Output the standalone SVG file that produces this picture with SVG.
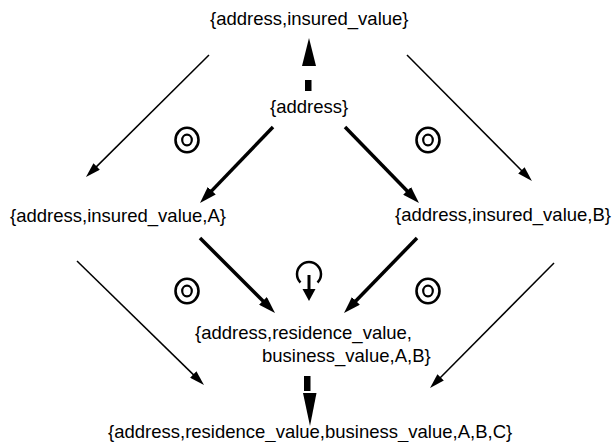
<svg xmlns="http://www.w3.org/2000/svg" width="614" height="442" viewBox="0 0 614 442">
<style>
text{font-family:"Liberation Sans",Arial,sans-serif;font-size:18.5px;fill:#000}
.thin{stroke:#000;stroke-width:1.5;fill:none;marker-end:url(#ht)}
.thick{stroke:#000;stroke-width:3.5;fill:none;marker-end:url(#hk)}
.ring{fill:none;stroke:#000}
</style>
<defs>
<marker id="ht" markerUnits="userSpaceOnUse" viewBox="0 0 15 9" markerWidth="15" markerHeight="9" refX="3" refY="4.5" orient="auto"><path d="M0,0 L15,4.5 L0,9 z" fill="#000"/></marker>
<marker id="hk" markerUnits="userSpaceOnUse" viewBox="0 0 17 11" markerWidth="17" markerHeight="11" refX="4" refY="5.5" orient="auto"><path d="M0,0 L17,5.5 L0,11 z" fill="#000"/></marker>
<g id="target"><ellipse class="ring" cx="0" cy="0" rx="11.5" ry="12.3" stroke-width="2.6"/><ellipse class="ring" cx="0" cy="0" rx="4.8" ry="5.3" stroke-width="2.2"/></g>
</defs>
<rect width="614" height="442" fill="#fff"/>
<g id="connectors">
<line class="thin" x1="209" y1="55" x2="94.5" y2="168.6"/>
<line class="thin" x1="407" y1="55" x2="523.5" y2="172.5"/>
<line class="thin" x1="77" y1="261" x2="195.4" y2="376.6"/>
<line class="thin" x1="554" y1="263" x2="438.5" y2="379.5"/>
<line class="thick" x1="273" y1="127" x2="209" y2="193.6"/>
<line class="thick" x1="345" y1="127" x2="409.9" y2="193.7"/>
<line class="thick" x1="200" y1="238" x2="265.8" y2="303.8"/>
<line class="thick" x1="417" y1="238" x2="353.1" y2="303.7"/>
<g id="dashed-up"><rect x="305" y="80" width="6.5" height="11"/><path d="M302,66 L316,66 L309,38 z"/></g>
<g id="dashed-down"><rect x="304" y="376" width="6.5" height="15"/><path d="M303,393 L316.5,393 L310,426 z"/></g>
</g>
<g id="symbols">
<use href="#target" x="187" y="140"/>
<use href="#target" x="428" y="140"/>
<use href="#target" x="187" y="291"/>
<use href="#target" x="428" y="291"/>
<g id="loop"><path d="M300.5,282.5 A12,12 0 1 1 317.5,282.5" fill="none" stroke="#000" stroke-width="2.5"/><line x1="309" y1="275" x2="309" y2="291" stroke="#000" stroke-width="3"/><path d="M302.5,289 L315.5,289 L309,301 z"/></g>
</g>
<g id="n-top"><text x="210" y="25">{address,insured_value}</text></g>
<g id="n-address"><text x="270" y="113">{address}</text></g>
<g id="n-A"><text x="10" y="222">{address,insured_value,A}</text></g>
<g id="n-B"><text x="395" y="221">{address,insured_value,B}</text></g>
<g id="n-AB"><text x="195" y="339">{address,residence_value,</text><text x="262" y="362">business_value,A,B}</text></g>
<g id="n-ABC"><text x="108" y="438">{address,residence_value,business_value,A,B,C}</text></g>
</svg>
